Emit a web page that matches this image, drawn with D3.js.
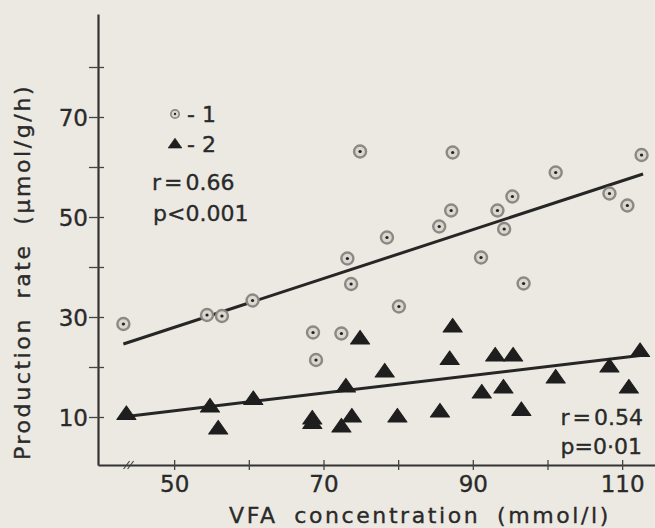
<!DOCTYPE html>
<html>
<head>
<meta charset="utf-8">
<script src="https://cdn.jsdelivr.net/npm/d3@7"></script>
<style>
  body { margin: 0; background: #ebe9e1; }
  text { font-family: "DejaVu Sans", sans-serif; fill: #2a2a2a; stroke: #2a2a2a; stroke-width: 0.35px; }
</style>
</head>
<body>
<script>
// Group 1 (circles) : VFA concentration vs production rate
const vfa1  = [43.2, 54.4, 56.4, 60.5, 68.6, 69.0, 72.4, 73.2, 73.7, 74.9, 78.5, 80.1,
               85.5, 87.1, 87.3, 91.1, 93.3, 94.2, 95.3, 96.8, 101.1, 108.3, 110.7, 112.6];
const rate1 = [28.6, 30.4, 30.2, 33.3, 26.9, 21.4, 26.7, 41.7, 36.6, 63.1, 45.9, 32.1,
               48.1, 51.3, 62.9, 41.9, 51.3, 47.6, 54.1, 36.7, 58.9, 54.7, 52.3, 62.4];

// Group 2 (triangles)
const vfa2  = [43.6, 54.8, 55.9, 60.6, 68.5, 68.5, 72.4, 73.0, 73.8, 74.9, 78.2, 79.9,
               85.6, 86.9, 87.3, 91.2, 93.0, 94.1, 95.4, 96.5, 101.1, 108.3, 110.9, 112.4];
const rate2 = [10.6, 12.1, 7.7, 13.6, 9.7, 8.8, 8.1, 16.1, 10.1, 25.7, 19.1, 10.1,
               11.1, 21.6, 28.1, 14.9, 22.3, 15.9, 22.3, 11.4, 17.9, 20.1, 15.9, 23.2];

// regression line end points [x, y]
const fit1 = [[43.2, 24.6], [112.8, 58.6]];
const fit2 = [[43.6, 10.1], [112.4, 22.3]];

const xTicks = [50, 60, 70, 80, 90, 100, 110];
const xLabels = [50, 70, 90, 110];
const yTicks = [10, 20, 30, 40, 50, 60, 70, 80];
const yLabels = [10, 30, 50, 70];

const W = 655, H = 528;

const svg = d3.select("body").append("svg")
    .attr("width", W)
    .attr("height", H);

svg.append("rect").attr("width", W).attr("height", H).attr("fill", "#ebe9e1");

const x = d3.scaleLinear().domain([39.8, 114.4]).range([98, 655]);
const y = d3.scaleLinear().domain([0.4, 90.6]).range([465, 14]);

// axes
const xAxis = d3.axisBottom(x).tickValues(xTicks)
    .tickFormat(d => xLabels.includes(d) ? d : "").tickSizeOuter(0);
const yAxis = d3.axisLeft(y).tickValues(yTicks)
    .tickFormat(d => yLabels.includes(d) ? d : "").tickSizeOuter(0);

const gx = svg.append("g").attr("transform", `translate(0,${y.range()[0]})`).call(xAxis);
const gy = svg.append("g").attr("transform", `translate(${x.range()[0]},0)`).call(yAxis);

[gx, gy].forEach(g => {
    g.select(".domain").attr("stroke", "#333").attr("stroke-width", 2.2);
    g.selectAll(".tick line").attr("stroke", "#444").attr("stroke-width", 1.3);
    g.selectAll(".tick text").style("font-size", "23px").attr("fill", "#2a2a2a");
});
gx.selectAll(".tick line").attr("y1", -5).attr("y2", 5);
gx.selectAll(".tick text").attr("y", 11);
gy.selectAll(".tick line").attr("x1", -9).attr("x2", 6);
gy.selectAll(".tick text").attr("x", -10).attr("dy", "0.36em");

// axis break mark
const bx = x(43.9), by = y.range()[0];
[-2, 2].forEach(o => {
    svg.append("line")
        .attr("x1", bx + o - 3).attr("y1", by + 4)
        .attr("x2", bx + o + 3).attr("y2", by - 4)
        .attr("stroke", "#444").attr("stroke-width", 1.2);
});

// axis titles
svg.append("text")
    .text("VFA concentration (mmol/l)")
    .attr("x", 420).attr("y", 523)
    .attr("text-anchor", "middle")
    .style("font-size", "22px")
    .style("letter-spacing", "2.6px")
    .style("word-spacing", "7px");

svg.append("text")
    .text("Production rate (μmol/g/h)")
    .attr("transform", "translate(30,272) rotate(-90)")
    .attr("text-anchor", "middle")
    .style("font-size", "22px")
    .style("letter-spacing", "2.6px")
    .style("word-spacing", "9px");

// regression lines
const line = d3.line().x(d => x(d[0])).y(d => y(d[1]));
[fit1, fit2].forEach(f => {
    svg.append("path").datum(f)
        .attr("d", line)
        .attr("fill", "none")
        .attr("stroke", "#262626")
        .attr("stroke-width", 3);
});

// markers
const triPath = "M0,-8 L9.5,5.5 L-9.5,5.5 Z";

const drawCircle = (g, cx, cy, r) => {
    g.append("circle").attr("cx", cx).attr("cy", cy).attr("r", r)
        .attr("fill", "#d9d7cf").attr("stroke", "#8a8984").attr("stroke-width", r * 0.4);
    g.append("circle").attr("cx", cx).attr("cy", cy).attr("r", r * 0.27).attr("fill", "#222");
};

const pts1 = vfa1.map((v, i) => ({x: v, y: rate1[i]}));
const pts2 = vfa2.map((v, i) => ({x: v, y: rate2[i]}));

const g1 = svg.append("g");
pts1.forEach(d => drawCircle(g1, x(d.x), y(d.y), 6));

svg.append("g").selectAll("path")
    .data(pts2)
    .join("path")
    .attr("d", triPath)
    .attr("transform", d => `translate(${x(d.x)},${y(d.y)})`)
    .attr("fill", "#1e1e1e")
    .attr("stroke", "#1e1e1e")
    .attr("stroke-width", 1.2)
    .attr("stroke-linejoin", "round");

// legend
drawCircle(svg, 175, 114, 4.2);
svg.append("text").text("- 1").attr("x", 187).attr("y", 122).style("font-size", "22px");
svg.append("path").attr("d", triPath).attr("transform", "translate(175,144) scale(0.72)")
    .attr("fill", "#1e1e1e").attr("stroke", "#1e1e1e").attr("stroke-linejoin", "round");
svg.append("text").text("- 2").attr("x", 187).attr("y", 152).style("font-size", "22px");

svg.append("text").text("r = 0.66").attr("x", 152).attr("y", 190)
    .style("font-size", "22px").style("word-spacing", "-4px");
svg.append("text").text("p<0.001").attr("x", 153).attr("y", 221).style("font-size", "22px");

svg.append("text").text("r = 0.54").attr("x", 643).attr("y", 425)
    .attr("text-anchor", "end").style("font-size", "22px").style("word-spacing", "-4px");
svg.append("text").text("p=0·01").attr("x", 642).attr("y", 454)
    .attr("text-anchor", "end").style("font-size", "22px");
</script>
</body>
</html>
